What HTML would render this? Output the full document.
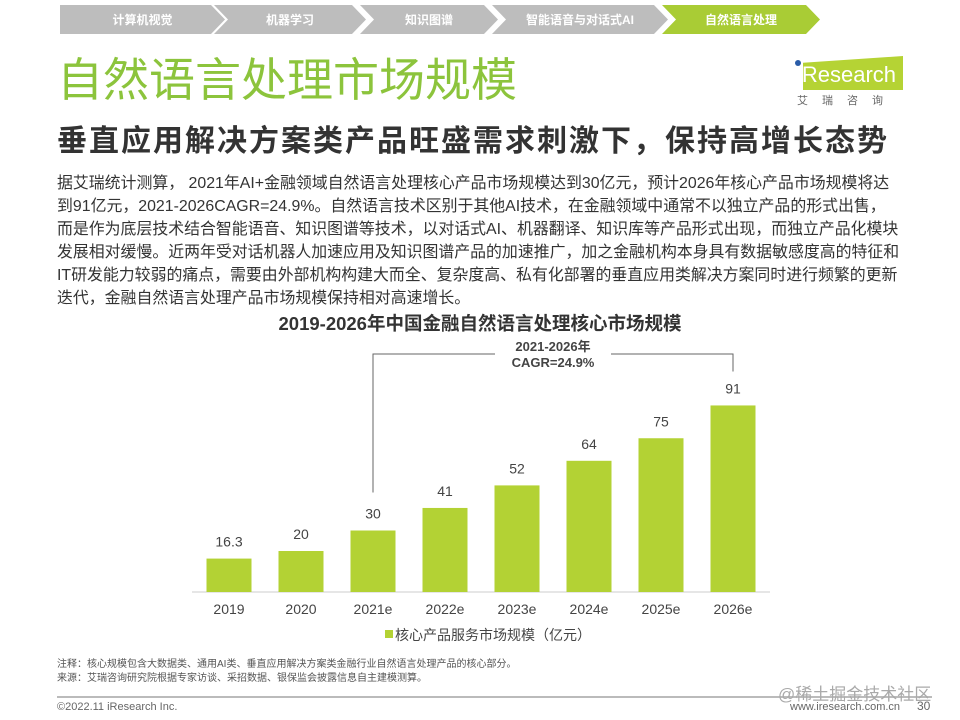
<!DOCTYPE html>
<html><head><meta charset="utf-8"><style>
*{margin:0;padding:0;box-sizing:border-box}
body{width:960px;height:720px;background:#fff;position:relative;overflow:hidden;font-family:"Liberation Sans","Noto Sans CJK SC",sans-serif;color:#333}
.abs{position:absolute;white-space:nowrap}
.crumb{position:absolute;top:5px;height:29px;color:#fff;font-size:12px;font-weight:bold;display:flex;align-items:center;justify-content:center;clip-path:polygon(0 0,calc(100% - 14px) 0,100% 50%,calc(100% - 14px) 100%,0 100%,14px 50%)}
.p{left:57px;font-size:15.9px;color:#333}
</style></head><body>
<div class="crumb" style="left:60px;width:165px;background:#bdbdbd;clip-path:polygon(0 0,calc(100% - 14px) 0,100% 50%,calc(100% - 14px) 100%,0 100%)">计算机视觉</div>
<div class="crumb" style="left:214px;width:152px;background:#bdbdbd">机器学习</div>
<div class="crumb" style="left:360px;width:138px;background:#bdbdbd">知识图谱</div>
<div class="crumb" style="left:492px;width:176px;background:#bdbdbd">智能语音与对话式AI</div>
<div class="crumb" style="left:662px;width:158px;background:#a9cc35">自然语言处理</div>

<div class="abs" style="left:57px;top:52px;font-size:46px;color:#8cc43c;line-height:56px">自然语言处理市场规模</div>
<div class="abs" style="left:795px;top:52px;width:110px;height:55px">
<div style="position:absolute;left:8px;top:4px;width:100px;height:34px;background:#b5d334;clip-path:polygon(0 20%,100% 0,100% 100%,0 100%)"></div>
<div style="position:absolute;left:0;top:8px;width:6px;height:6px;border-radius:50%;background:#2a5ca8"></div>
<div style="position:absolute;left:2px;top:10px;font-size:22px;color:#fff;font-family:'Liberation Sans Narrow','Liberation Sans',sans-serif">iResearch</div>
<div style="position:absolute;left:2px;top:40px;font-size:11px;color:#666;letter-spacing:14px">艾瑞咨询</div>
</div>
<div class="abs" style="left:57px;top:116px;font-size:30px;letter-spacing:2px;font-weight:bold;color:#333">垂直应用解决方案类产品旺盛需求刺激下，保持高增长态势</div>

<div>
<div class="abs p" style="top:170px">据艾瑞统计测算， 2021年AI+金融领域自然语言处理核心产品市场规模达到30亿元，预计2026年核心产品市场规模将达</div>
<div class="abs p" style="top:193px">到91亿元，2021-2026CAGR=24.9%。自然语言技术区别于其他AI技术，在金融领域中通常不以独立产品的形式出售，</div>
<div class="abs p" style="top:216px">而是作为底层技术结合智能语音、知识图谱等技术，以对话式AI、机器翻译、知识库等产品形式出现，而独立产品化模块</div>
<div class="abs p" style="top:239px">发展相对缓慢。近两年受对话机器人加速应用及知识图谱产品的加速推广，加之金融机构本身具有数据敏感度高的特征和</div>
<div class="abs p" style="top:262px">IT研发能力较弱的痛点，需要由外部机构构建大而全、复杂度高、私有化部署的垂直应用类解决方案同时进行频繁的更新</div>
<div class="abs p" style="top:285px">迭代，金融自然语言处理产品市场规模保持相对高速增长。</div>
</div>

<div class="abs" style="left:0;width:960px;text-align:center;top:310px;font-size:18.5px;font-weight:bold;color:#333">2019-2026年中国金融自然语言处理核心市场规模</div>

<svg id="chart" width="960" height="720" style="position:absolute;left:0;top:0" font-family="Liberation Sans, Noto Sans CJK SC, sans-serif"></svg>

<div class="abs" style="left:57px;top:658px;font-size:10px;color:#555;line-height:14px">注释：核心规模包含大数据类、通用AI类、垂直应用解决方案类金融行业自然语言处理产品的核心部分。<br>来源：艾瑞咨询研究院根据专家访谈、采招数据、银保监会披露信息自主建模测算。</div>
<div class="abs" style="left:57px;top:696px;width:875px;height:2px;background:#bbb"></div>
<div class="abs" style="left:57px;top:701px;font-size:11px;color:#666">©2022.11 iResearch Inc.</div>
<div class="abs" style="left:790px;top:701px;font-size:11px;color:#666">www.iresearch.com.cn</div>
<div class="abs" style="left:917px;top:699px;font-size:12px;color:#666">30</div>
<div class="abs" style="left:778px;top:680px;font-size:17px;color:#aaa">@稀土掘金技术社区</div>

<script>
const categories=["2019","2020","2021e","2022e","2023e","2024e","2025e","2026e"];
const values=[16.3,20,30,41,52,64,75,91];
const valueLabels=["16.3","20","30","41","52","64","75","91"];
const cagrLabel=["2021-2026年","CAGR=24.9%"];
const cagrFrom=2, cagrTo=7;
const svg=document.getElementById('chart');
const NS='http://www.w3.org/2000/svg';
const baseY=592, pxPer=2.05, x0=229, step=72, bw=45;
const xS=i=>x0+i*step, yS=v=>baseY-v*pxPer;
function mk(t,a){const e=document.createElementNS(NS,t);for(const k in a)e.setAttribute(k,a[k]);svg.appendChild(e);return e;}
const ax=mk('line',{x1:192,x2:770,y1:baseY,y2:baseY,stroke:'#ccc','stroke-width':1});


values.forEach((v,i)=>{
 const r=mk('rect',{x:xS(i)-bw/2,y:yS(v),width:bw,height:v*pxPer,fill:'#b3d234'});
 
 
 const t=mk('text',{x:xS(i),y:yS(v)-12,'text-anchor':'middle','font-size':14,fill:'#444'});t.textContent=valueLabels[i];
 
 
 const c=mk('text',{x:xS(i),y:baseY+22,'text-anchor':'middle','font-size':14,fill:'#444'});c.textContent=categories[i];
 
 
});
const lx=xS(cagrFrom), rx=xS(cagrTo), ty=354, mid=(lx+rx)/2;
const br=mk('polyline',{points:`${lx},${yS(values[cagrFrom])-38} ${lx},${ty} ${mid-58},${ty}`,fill:'none',stroke:'#666','stroke-width':1});


const br2=mk('polyline',{points:`${mid+58},${ty} ${rx},${ty} ${rx},${yS(values[cagrTo])-34}`,fill:'none',stroke:'#666','stroke-width':1});


cagrLabel.forEach((s,k)=>{const t=mk('text',{x:mid,y:351+k*16,'text-anchor':'middle','font-size':13,'font-weight':'bold',fill:'#444'});t.textContent=s;
 
 });
const lg=mk('rect',{x:385,y:630,width:8,height:8,fill:'#b3d234'});


const lt=mk('text',{x:395,y:640,'font-size':14,fill:'#444'});lt.textContent='核心产品服务市场规模（亿元）';


</script>
</body></html>
